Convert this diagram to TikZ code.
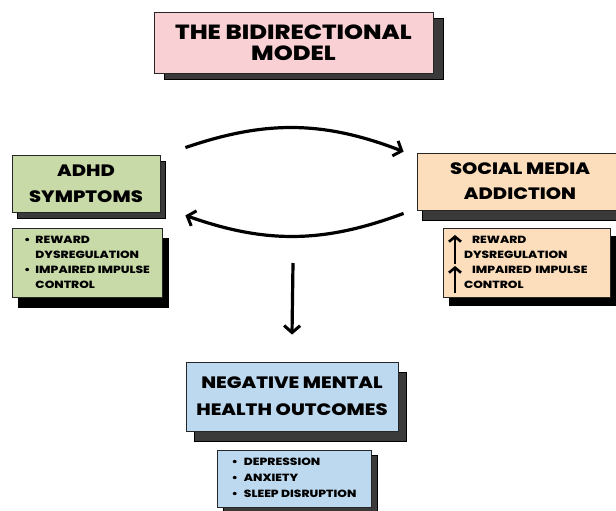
\documentclass[tikz,border=0pt]{standalone}
\usepackage{fontspec}
\setmainfont{Poppins}[UprightFont={* Bold}, BoldFont={* ExtraBold}, FakeStretch=1.18]
\usetikzlibrary{arrows.meta,shadows}
\definecolor{titlepink}{RGB}{249,208,211}
\definecolor{adhdgreen}{RGB}{199,218,167}
\definecolor{smpeach}{RGB}{252,222,188}
\definecolor{negblue}{RGB}{189,217,240}
\definecolor{shadowgray}{RGB}{58,58,58}

\tikzset{
  box/.style={draw=black!85, line width=0.8pt, inner sep=0pt, align=center},
  shade/.style n args={3}{drop shadow={shadow xshift=#1pt, shadow yshift=-#2pt,
      fill=#3, draw=black, opacity=1}},
  headfont/.style={font=\bfseries\fontsize{16.5}{26}\selectfont},
  listfont/.style={font=\bfseries\fontsize{10.4}{15}\selectfont},
  flow/.style={line width=3.2pt, -{Straight Barb[length=7pt,width=16pt,line width=3pt]}},
  uparrow/.style={line width=2.6pt, -{Straight Barb[length=5pt,width=12pt,line width=2.6pt]}}
}

\begin{document}
\begin{tikzpicture}[x=1pt,y=-1pt]
  \clip (0,0) rectangle (616,511);
  \fill[white] (0,0) rectangle (616,511);

  % title
  \node[box, fill=titlepink, shade={10}{6}{shadowgray}, minimum width=279pt, minimum height=61pt,
        font=\bfseries\fontsize{20.5}{21}\selectfont] (title) at (293.5,42.5) {THE BIDIRECTIONAL\\MODEL};

  % left side
  \node[box, fill=adhdgreen, shade={5}{6}{shadowgray}, minimum width=148pt, minimum height=57pt,
        headfont] (adhd) at (86,183.5) {ADHD\\SYMPTOMS};
  \node[box, fill=adhdgreen, shade={6}{10}{black}, minimum width=150pt, minimum height=69pt,
        listfont] (adhdlist) at (87,262.5)
        {\begin{tabular}{@{}l@{\hspace{5pt}}l@{}}
          \textbullet & REWARD\\ & DYSREGULATION\\ \textbullet & IMPAIRED IMPULSE\\ & CONTROL
         \end{tabular}};

  % right side
  \node[box, fill=smpeach, shade={5}{10}{shadowgray}, minimum width=206pt, minimum height=57pt,
        font=\bfseries\fontsize{16.5}{25}\selectfont] (sm) at (520,181.5) {SOCIAL MEDIA\\ADDICTION};
  \node[box, fill=smpeach, shade={6}{8}{black}, minimum width=167pt, minimum height=69pt,
        text width=147pt, align=left, listfont] (smlist) at (526.5,262.5)
        {\hspace*{11pt}\hspace{8pt}REWARD\\\hspace*{11pt}DYSREGULATION\\
         \hspace*{11pt}\hspace{8pt}IMPAIRED IMPULSE\\\hspace*{11pt}CONTROL};
  \draw[uparrow] (455,264) -- (455,235);
  \draw[uparrow] (455,293) -- (455,266);

  % bottom
  \node[box, fill=negblue, shade={8}{10}{shadowgray}, minimum width=212pt, minimum height=69pt,
        font=\bfseries\fontsize{16.5}{27}\selectfont] (neg) at (292,396.5) {NEGATIVE MENTAL\\HEALTH OUTCOMES};
  \node[box, fill=negblue, shade={6}{5}{shadowgray}, minimum width=154pt, minimum height=57pt,
        font=\bfseries\fontsize{10.4}{16}\selectfont] (neglist) at (294,478.5)
        {\begin{tabular}{@{}l@{\hspace{6pt}}l@{}}
          \textbullet & DEPRESSION\\ \textbullet & ANXIETY\\ \textbullet & SLEEP DISRUPTION
         \end{tabular}};

  % connectors
  \coordinate (split) at (293,263);
  \draw[flow] ([shift={(25pt,7pt)}]adhd.north east) to[bend left=20] ([shift={(-13pt,1pt)}]sm.north west);
  \draw[flow] ([shift={(-13pt,-3pt)}]sm.south west) to[bend left=20] ([shift={(25pt,-3pt)}]adhd.south east);
  \draw[flow] (split) -- ([yshift=27pt]neg.north);
\end{tikzpicture}
\end{document}
